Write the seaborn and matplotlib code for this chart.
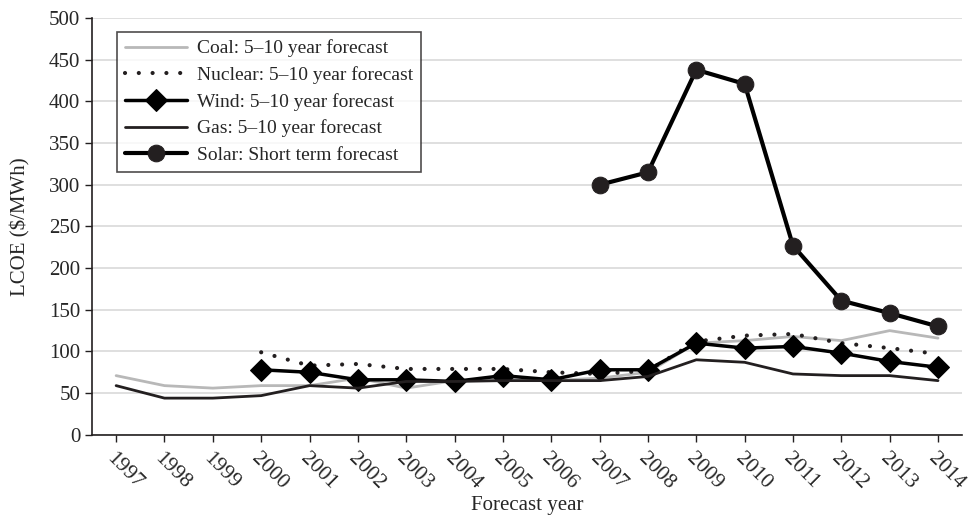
import numpy as np
import pandas as pd
import matplotlib
matplotlib.use('Agg')
import matplotlib.pyplot as plt
import seaborn as sns

years = list(range(1997, 2015))
coal = [71, 59, 56, 59, 59, 68, 56, 65, 66, 65, 68, 75, 110, 113, 118, 113, 125, 116]
gas = [59, 44, 44, 47, 59, 56, 64, 64, 65, 65, 65, 70, 90, 87, 73, 71, 71, 65]
nuclear_years = list(range(2000, 2015))
nuclear = [99, 83, 85, 79, 79, 79, 75, 73, 77, 112, 119, 121, 110, 104, 97]
wind_years = list(range(2000, 2015))
wind = [78, 75, 66, 66, 64, 71, 66, 78, 78, 110, 104, 106, 98, 88, 81]
solar_years = list(range(2007, 2015))
solar = [300, 315, 438, 421, 227, 161, 146, 130]

sns.set_style("white")
plt.rcParams['font.family'] = ['Liberation Serif', 'DejaVu Serif']

fig = plt.figure(figsize=(9.68, 5.17), dpi=100)
ax = fig.add_axes([0.095, 0.159, 0.899, 0.806])

sns.lineplot(x=years, y=coal, ax=ax, color='#b8b8b8', linewidth=2,
             label='Coal: 5–10 year forecast')
sns.lineplot(x=nuclear_years, y=nuclear, ax=ax, color='#231f20', linewidth=3,
             linestyle=(0, (0.01, 3.3)), dash_capstyle='round',
             label='Nuclear: 5–10 year forecast')
sns.lineplot(x=wind_years, y=wind, ax=ax, color='#000000', linewidth=2.5,
             marker='D', markersize=11, markeredgecolor='#000000',
             label='Wind: 5–10 year forecast')
sns.lineplot(x=years, y=gas, ax=ax, color='#231f20', linewidth=2,
             label='Gas: 5–10 year forecast')
sns.lineplot(x=solar_years, y=solar, ax=ax, color='#000000', linewidth=3,
             marker='o', markersize=12, markerfacecolor='#231f20', markeredgecolor='#231f20',
             label='Solar: Short term forecast')

ax.set_xlim(1996.5, 2014.5)
ax.set_ylim(0, 500)
ax.set_yticks(np.arange(0, 501, 50))
ax.set_xticks(years)
ax.set_xticklabels([str(y) for y in years], rotation=-45, ha='left', va='top',
                   rotation_mode='anchor', fontsize=15.5)
ax.tick_params(axis='both', labelsize=15, direction='out', length=5, width=1,
               color='#231f20', left=True, bottom=True)
ax.tick_params(axis='x', pad=5, labelsize=15.5)
ax.grid(axis='y', color='#d9d9d9', linewidth=1.2)
ax.set_axisbelow(True)
for s in ['top', 'right']:
    ax.spines[s].set_visible(False)
for s in ['left', 'bottom']:
    ax.spines[s].set_color('#231f20')
    ax.spines[s].set_linewidth(1.2)

ax.set_xlabel('Forecast year', fontsize=15, labelpad=2)
ax.set_ylabel('LCOE ($/MWh)', fontsize=15, labelpad=13)

leg = ax.legend(loc='upper left', bbox_to_anchor=(0.029, 0.967), fontsize=14,
                handlelength=3.2, handletextpad=0.5, frameon=True, fancybox=False,
                borderaxespad=0, labelspacing=0.45)
leg.get_frame().set_edgecolor('#231f20')
leg.get_frame().set_linewidth(1.2)

plt.savefig("out.png", dpi=100)
plt.close()
